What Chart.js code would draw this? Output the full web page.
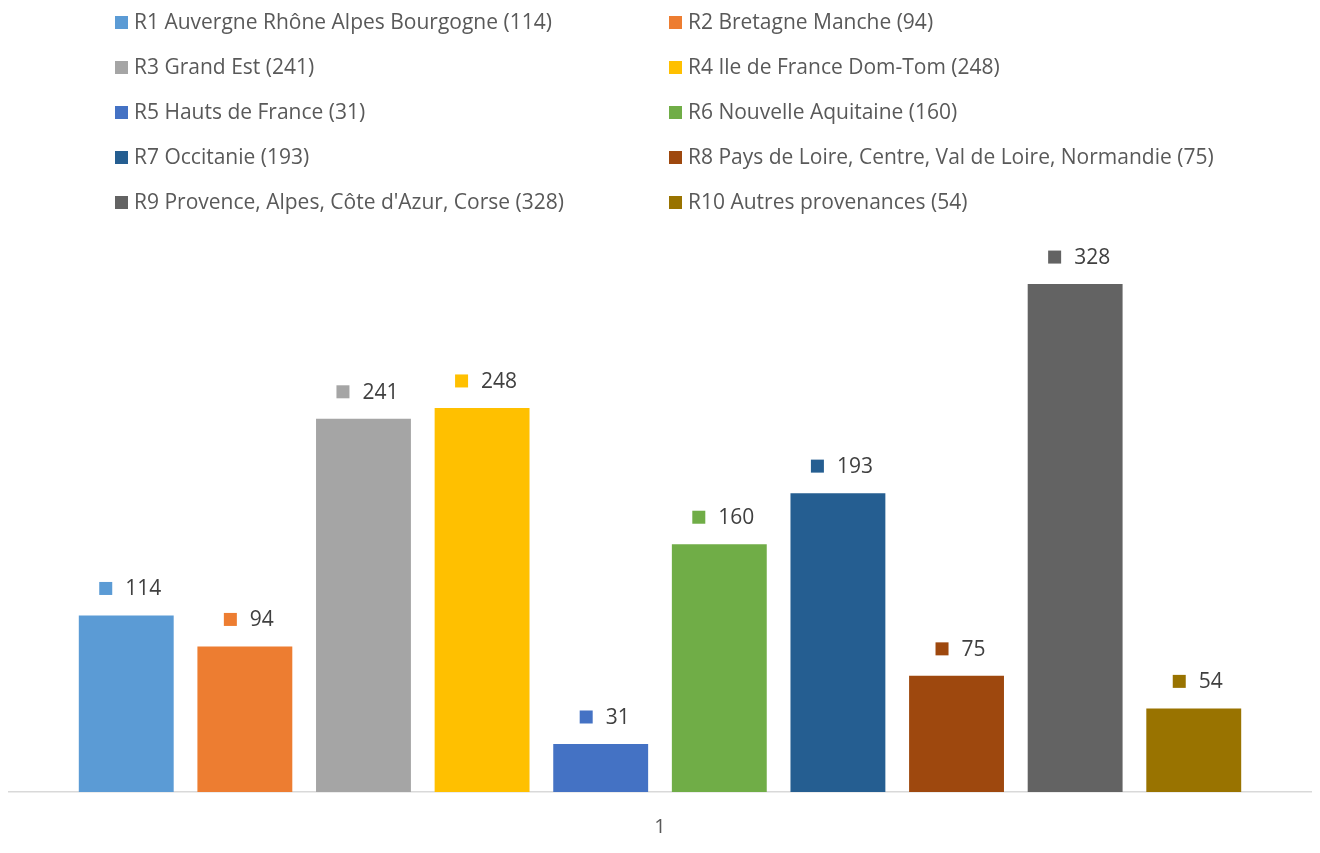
<html>
<head>
  <title>Répartition par région</title>
  <script src="https://cdn.jsdelivr.net/npm/chart.js"></script>
  <style>
    body { margin: 0; background: #fff; }
    #wrap { position: relative; width: 1320px; height: 853px; }
    #legend { position: absolute; left: 0; top: 0; width: 1320px; font-family: "Open Sans", sans-serif; font-size: 21px; color: #595959; }
    .item { position: absolute; height: 26px; line-height: 26px; white-space: nowrap; }
    .box { display: inline-block; width: 13px; height: 13px; margin-right: 6px; vertical-align: 0px; }
  </style>
</head>
<body>
  <div id="wrap">
    <canvas id="regionChart" width="1320" height="853"></canvas>
    <div id="legend"></div>
  </div>

  <script>
    // Regions and counts
    const regions = [
      'R1 Auvergne Rhône Alpes Bourgogne',
      'R2 Bretagne Manche',
      'R3 Grand Est',
      'R4 Ile de France Dom-Tom',
      'R5 Hauts de France',
      'R6 Nouvelle Aquitaine',
      'R7 Occitanie',
      'R8 Pays de Loire, Centre, Val de Loire, Normandie',
      'R9 Provence, Alpes, Côte d\'Azur, Corse',
      'R10 Autres provenances'
    ];
    const counts = [114, 94, 241, 248, 31, 160, 193, 75, 328, 54];
    const colors = ['#5B9BD5', '#ED7D31', '#A5A5A5', '#FFC000', '#4472C4',
                    '#70AD47', '#255E91', '#9E480E', '#636363', '#997300'];
    const categories = ['1'];

    const FONT = '"Open Sans", sans-serif';

    // Build the two-column legend
    const legend = document.getElementById('legend');
    regions.forEach((name, i) => {
      const div = document.createElement('div');
      div.className = 'item';
      div.style.left = (i % 2 === 0 ? 115 : 669) + 'px';
      div.style.top = (8 + Math.floor(i / 2) * 45) + 'px';
      div.innerHTML = '<span class="box" style="background:' + colors[i] + '"></span>' +
        name + ' (' + counts[i] + ')';
      legend.appendChild(div);
    });

    // Draw the value label with its small colour key above each bar
    const valueLabels = {
      id: 'valueLabels',
      afterDatasetsDraw(chart) {
        const ctx = chart.ctx;
        ctx.save();
        ctx.font = '21px ' + FONT;
        ctx.textBaseline = 'middle';
        chart.data.datasets.forEach((ds, i) => {
          const bar = chart.getDatasetMeta(i).data[0];
          const text = String(ds.data[0]);
          const w = ctx.measureText(text).width;
          const total = 13 + 13 + w;
          const left = bar.x + 4 - total / 2;
          const cy = bar.y - 27;
          ctx.fillStyle = ds.backgroundColor;
          ctx.fillRect(left, cy - 6.5, 13, 13);
          ctx.fillStyle = '#404040';
          ctx.fillText(text, left + 26, cy + 1);
        });
        ctx.restore();
      }
    };

    const ctx = document.getElementById('regionChart').getContext('2d');
    new Chart(ctx, {
      type: 'bar',
      data: {
        labels: categories,
        datasets: regions.map((name, i) => ({
          label: name,
          data: [counts[i]],
          backgroundColor: colors[i],
          borderWidth: 0,
          categoryPercentage: 0.911,
          barPercentage: 0.80
        }))
      },
      options: {
        responsive: false,
        animation: false,
        layout: { padding: { left: 9, right: 9, top: 250, bottom: 0 } },
        plugins: {
          legend: { display: false },
          tooltip: { enabled: false }
        },
        scales: {
          x: {
            grid: { display: false },
            border: { display: true, color: '#D9D9D9', width: 1.5 },
            ticks: { color: '#595959', font: { family: FONT, size: 20 }, padding: 15 },
            afterFit(scale) { scale.height = 61; }
          },
          y: {
            display: false,
            min: 0,
            max: 350
          }
        }
      },
      plugins: [valueLabels]
    });
  </script>
</body>
</html>
